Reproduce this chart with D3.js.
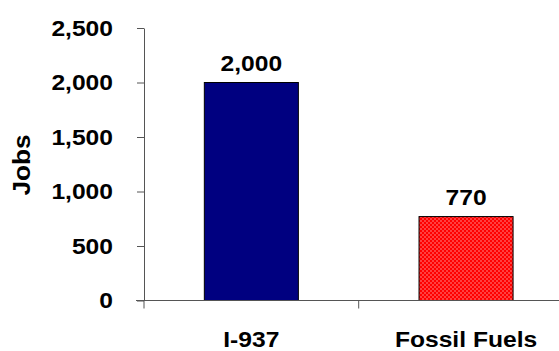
<!DOCTYPE html>
<html>
<head>
<meta charset="utf-8">
<script src="https://cdn.jsdelivr.net/npm/d3@7"></script>
<style>
  html, body { margin: 0; padding: 0; background: #fff; }
  svg { display: block; }
  text { font-family: Arial, "Liberation Sans", Helvetica, sans-serif; font-weight: bold; fill: #000; }
</style>
</head>
<body>
<svg id="chart" width="559" height="351"></svg>
<script>
// Jobs created: I-937 versus fossil fuels
const categories = ["I-937", "Fossil Fuels"];
const jobs = [2000, 770];
const yTicks = [0, 500, 1000, 1500, 2000, 2500];
const valueLabels = ["2,000", "770"];

const W = 559, H = 351;
const plotLeft = 144, plotTop = 28, plotBottom = 300.5;
const step = 214.7;
const sx = 1.12;          // horizontal text stretch
const fontSize = 22;

const svg = d3.select("#chart");

// dotted red fill
const defs = svg.append("defs");
const pat = defs.append("pattern")
  .attr("id", "dots")
  .attr("patternUnits", "userSpaceOnUse")
  .attr("x", 0.5).attr("y", 0.5)
  .attr("width", 4).attr("height", 4);
pat.append("rect").attr("width", 4).attr("height", 4).attr("fill", "#ff0000");
pat.append("rect").attr("x", 0).attr("y", 0).attr("width", 1).attr("height", 1)
  .attr("fill", "#fff").attr("shape-rendering", "crispEdges");
pat.append("rect").attr("x", 2).attr("y", 2).attr("width", 1).attr("height", 1)
  .attr("fill", "#fff").attr("shape-rendering", "crispEdges");

const x = d3.scaleBand()
  .domain(categories)
  .range([plotLeft, plotLeft + step * categories.length])
  .paddingInner(0.562)
  .paddingOuter(0.281);

const y = d3.scaleLinear().domain([0, 2500]).range([plotBottom, plotTop]);

const fills = ["#000080", "url(#dots)"];

// bars
svg.append("g").selectAll("rect")
  .data(jobs)
  .join("rect")
  .attr("x", (d, i) => x(categories[i]))
  .attr("y", d => y(d))
  .attr("width", x.bandwidth())
  .attr("height", d => y(0) - y(d))
  .attr("fill", (d, i) => fills[i])
  .attr("stroke", "#000")
  .attr("stroke-width", 1);

// y axis
const yAxis = svg.append("g")
  .attr("transform", `translate(${plotLeft},0)`)
  .call(d3.axisLeft(y).tickValues(yTicks).tickSize(7).tickSizeOuter(0)
    .tickFormat(d3.format(",")));
yAxis.attr("font-family", null).attr("font-size", null);
yAxis.select(".domain").attr("stroke", "#555");
yAxis.selectAll(".tick line").attr("stroke", "#555");
yAxis.selectAll(".tick text")
  .attr("font-size", fontSize)
  .attr("x", -31 / sx)
  .attr("dy", "0.34em")
  .attr("transform", `scale(${sx},1)`);

// x axis
const xAxis = svg.append("g")
  .attr("transform", `translate(0,${plotBottom})`);
xAxis.append("line")
  .attr("x1", plotLeft - 8).attr("x2", W + 20)
  .attr("stroke", "#555");
const boundaries = [plotLeft, plotLeft + step];
xAxis.selectAll(".sep")
  .data(boundaries)
  .join("line")
  .attr("x1", d => d).attr("x2", d => d)
  .attr("y1", 0).attr("y2", 8)
  .attr("stroke", "#555");

xAxis.selectAll(".cat")
  .data(categories)
  .join("text")
  .attr("text-anchor", "middle")
  .attr("font-size", fontSize)
  .attr("transform", d => `translate(${x(d) + x.bandwidth() / 2},46.5) scale(${sx},1)`)
  .text(d => d);

// value labels
svg.append("g").selectAll("text")
  .data(jobs)
  .join("text")
  .attr("text-anchor", "middle")
  .attr("font-size", fontSize)
  .attr("transform", (d, i) => `translate(${x(categories[i]) + x.bandwidth() / 2},${y(d) - 12}) scale(${sx},1)`)
  .text((d, i) => valueLabels[i]);

// axis title
svg.append("text")
  .attr("text-anchor", "middle")
  .attr("font-size", 23)
  .attr("transform", `translate(30,165) rotate(-90) scale(1.14,1)`)
  .text("Jobs");
</script>
</body>
</html>
